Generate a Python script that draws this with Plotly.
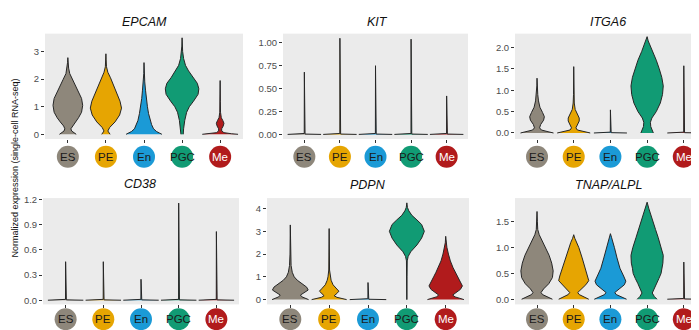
import plotly.graph_objects as go

# The page body adds an 8 px margin, so the figure is laid out 8 px smaller
PAGE_MARGIN = 8
W, H = 699 - PAGE_MARGIN, 330 - PAGE_MARGIN

GROUPS = ["ES", "PE", "En", "PGC", "Me"]
GROUP_COLORS = ["#8E877B", "#E6A502", "#1B9AD6", "#119B74", "#B11B1C"]
LABEL_COLORS = ["#1a1a1a", "#1a1a1a", "#1a1a1a", "#1a1a1a", "#ffffff"]

# density profiles: list of (expression level, half-width density) per group
EPCAM = {
    "ES": [(0, 0.22), (0.05, 0.17), (0.12, 0.10), (0.2, 0.08), (0.3, 0.11), (0.45, 0.20), (0.6, 0.28), (0.8, 0.36),
           (1.05, 0.39), (1.3, 0.36), (1.55, 0.28), (1.8, 0.19), (2.0, 0.12), (2.2, 0.05), (2.4, 0.02), (2.6, 0.008), (2.78, 0)],
    "PE": [(0, 0.11), (0.06, 0.07), (0.12, 0.05), (0.25, 0.10), (0.45, 0.24), (0.7, 0.36), (0.95, 0.41), (1.2, 0.37),
           (1.5, 0.28), (1.8, 0.19), (2.05, 0.12), (2.25, 0.05), (2.45, 0.015), (2.7, 0.006), (2.92, 0)],
    "En": [(0, 0.47), (0.05, 0.40), (0.1, 0.33), (0.2, 0.25), (0.35, 0.20), (0.5, 0.16), (0.75, 0.12), (1.0, 0.09),
           (1.3, 0.06), (1.6, 0.04), (1.9, 0.02), (2.2, 0.006), (2.6, 0)],
    "PGC": [(0, 0.03), (0.2, 0.04), (0.5, 0.07), (0.8, 0.12), (1.0, 0.19), (1.2, 0.30), (1.45, 0.42), (1.65, 0.44),
            (1.85, 0.40), (2.05, 0.29), (2.3, 0.17), (2.5, 0.09), (2.75, 0.04), (3.0, 0.015), (3.2, 0.006), (3.5, 0)],
    "Me": [(0, 0.47), (0.02, 0.30), (0.06, 0.10), (0.12, 0.04), (0.2, 0.04), (0.3, 0.08), (0.4, 0.10), (0.5, 0.07),
           (0.6, 0.03), (0.8, 0.01), (1.2, 0.005), (1.95, 0)],
}
KIT = {
    "ES": [(0, 0.47), (0.004, 0.02), (0.01, 0.003), (0.68, 0)],
    "PE": [(0, 0.47), (0.004, 0.02), (0.01, 0.003), (1.05, 0)],
    "En": [(0, 0.47), (0.004, 0.02), (0.01, 0.003), (0.75, 0)],
    "PGC": [(0, 0.47), (0.004, 0.02), (0.01, 0.003), (1.04, 0)],
    "Me": [(0, 0.47), (0.004, 0.02), (0.01, 0.003), (0.42, 0)],
}
ITGA6 = {
    "ES": [(0, 0.45), (0.03, 0.30), (0.07, 0.12), (0.12, 0.07), (0.2, 0.10), (0.3, 0.18), (0.38, 0.20), (0.48, 0.15),
           (0.6, 0.08), (0.75, 0.04), (0.9, 0.02), (1.1, 0.005), (1.28, 0)],
    "PE": [(0, 0.45), (0.03, 0.30), (0.07, 0.10), (0.12, 0.06), (0.2, 0.10), (0.28, 0.15), (0.35, 0.15), (0.45, 0.09),
           (0.55, 0.04), (0.7, 0.015), (0.9, 0.005), (1.55, 0)],
    "En": [(0, 0.45), (0.008, 0.02), (0.02, 0.003), (0.54, 0)],
    "PGC": [(0, 0.17), (0.06, 0.15), (0.15, 0.10), (0.25, 0.09), (0.35, 0.13), (0.5, 0.25), (0.7, 0.36), (0.9, 0.42),
            (1.1, 0.44), (1.3, 0.40), (1.5, 0.33), (1.7, 0.25), (1.9, 0.15), (2.05, 0.08), (2.15, 0.03), (2.25, 0)],
    "Me": [(0, 0.45), (0.008, 0.02), (0.02, 0.003), (1.57, 0)],
}
CD38 = {
    "ES": [(0, 0.47), (0.004, 0.02), (0.01, 0.003), (0.46, 0)],
    "PE": [(0, 0.47), (0.004, 0.02), (0.01, 0.003), (0.46, 0)],
    "En": [(0, 0.47), (0.004, 0.02), (0.01, 0.003), (0.25, 0)],
    "PGC": [(0, 0.47), (0.004, 0.02), (0.01, 0.003), (1.16, 0)],
    "Me": [(0, 0.47), (0.004, 0.02), (0.01, 0.003), (0.82, 0)],
}
PDPN = {
    "ES": [(0, 0.47), (0.05, 0.40), (0.12, 0.30), (0.2, 0.26), (0.3, 0.35), (0.42, 0.46), (0.55, 0.42), (0.7, 0.30),
           (0.85, 0.18), (1.0, 0.10), (1.2, 0.05), (1.5, 0.02), (2.0, 0.008), (3.28, 0)],
    "PE": [(0, 0.45), (0.05, 0.35), (0.1, 0.20), (0.17, 0.13), (0.27, 0.20), (0.37, 0.25), (0.5, 0.18), (0.65, 0.10),
           (0.85, 0.05), (1.0, 0.03), (1.3, 0.01), (3.12, 0)],
    "En": [(0, 0.47), (0.015, 0.02), (0.04, 0.003), (0.75, 0)],
    "PGC": [(0, 0.003), (1.0, 0.005), (1.7, 0.01), (1.9, 0.035), (2.1, 0.10), (2.4, 0.26), (2.7, 0.38), (3.0, 0.45),
            (3.3, 0.38), (3.5, 0.26), (3.7, 0.13), (3.9, 0.05), (4.05, 0.015), (4.25, 0)],
    "Me": [(0, 0.47), (0.05, 0.38), (0.12, 0.24), (0.2, 0.18), (0.3, 0.26), (0.45, 0.38), (0.6, 0.43), (0.8, 0.38),
           (1.0, 0.31), (1.2, 0.25), (1.4, 0.19), (1.7, 0.12), (2.0, 0.07), (2.3, 0.03), (2.5, 0.01), (2.78, 0)],
}
TNAP = {
    "ES": [(0, 0.42), (0.04, 0.30), (0.09, 0.15), (0.13, 0.11), (0.2, 0.18), (0.3, 0.32), (0.42, 0.42), (0.55, 0.44),
           (0.7, 0.40), (0.85, 0.33), (1.0, 0.23), (1.15, 0.13), (1.25, 0.06), (1.35, 0.02), (1.5, 0.01), (1.7, 0)],
    "PE": [(0, 0.41), (0.04, 0.30), (0.09, 0.15), (0.13, 0.11), (0.2, 0.20), (0.28, 0.33), (0.36, 0.41), (0.45, 0.38),
           (0.6, 0.31), (0.8, 0.23), (1.0, 0.14), (1.1, 0.08), (1.18, 0.03), (1.25, 0)],
    "En": [(0, 0.44), (0.04, 0.32), (0.09, 0.16), (0.13, 0.12), (0.2, 0.25), (0.28, 0.38), (0.35, 0.42), (0.45, 0.36),
           (0.6, 0.26), (0.8, 0.18), (1.0, 0.11), (1.12, 0.07), (1.2, 0.03), (1.27, 0)],
    "PGC": [(0, 0.27), (0.05, 0.20), (0.12, 0.14), (0.2, 0.18), (0.3, 0.25), (0.4, 0.32), (0.5, 0.38), (0.6, 0.40),
            (0.7, 0.43), (0.85, 0.44), (1.0, 0.39), (1.2, 0.30), (1.35, 0.23), (1.5, 0.16), (1.65, 0.09), (1.75, 0.05), (1.88, 0)],
    "Me": [(0, 0.45), (0.006, 0.02), (0.015, 0.003), (0.72, 0)],
}

GENES = ["EPCAM", "KIT", "ITGA6", "CD38", "PDPN", "TNAP/ALPL"]
PROFILES = [EPCAM, KIT, ITGA6, CD38, PDPN, TNAP]
Y_TICKS = [[0, 1, 2, 3], [0, 0.25, 0.5, 0.75, 1.0], [0, 0.5, 1.0, 1.5, 2.0],
           [0, 0.3, 0.6, 0.9, 1.2], [0, 1, 2, 3, 4], [0, 0.5, 1.0, 1.5]]
Y_FORMATS = ["d", ".2f", ".1f", ".1f", "d", ".1f"]
Y_RANGES = [[-0.17, 3.65], [-0.05, 1.10], [-0.14, 2.32], [-0.05, 1.22], [-0.21, 4.46], [-0.1, 1.96]]

# layout in window pixels (left, right, top, bottom) of each panel
PANELS = [(45, 243, 30, 137), (283, 468, 30, 137), (515, 699, 30, 137),
          (43, 239, 197, 305), (267, 469, 197, 305), (515, 699, 197, 305)]
X_RANGES = [[0.4, 5.6], [0.4, 5.6], [0.4, 5.414], [0.4, 5.6], [0.4, 5.6], [0.4, 5.414]]
TITLE_X = [144, 377, 608, 140, 368, 608]
TITLE_Y = [18, 18, 18, 183, 184, 184]
CIRCLE_Y = [155, 155, 155, 320, 320, 320]


def px_x(v):
    return (v - PAGE_MARGIN) / W


def px_y(v):
    return (H - (v - PAGE_MARGIN)) / H


fig = go.Figure()
layout = dict(width=W, height=H, margin=dict(l=0, r=0, t=0, b=0),
              paper_bgcolor="white", plot_bgcolor="#EBEBEB", showlegend=False,
              font=dict(family="Liberation Sans, Arial, sans-serif"))
shapes, annotations = [], []

for p, (gene, prof) in enumerate(zip(GENES, PROFILES)):
    n = p + 1
    xa = "x" if n == 1 else f"x{n}"
    ya = "y" if n == 1 else f"y{n}"
    l, r, t, b = PANELS[p]
    for i, g in enumerate(GROUPS):
        pts = prof[g]
        lev = [v for v, d in pts]
        den = [d for v, d in pts]
        c = i + 1
        xs = [c - d for d in den] + [c + d for d in reversed(den)]
        ys = lev + list(reversed(lev))
        fig.add_trace(go.Scatter(x=xs, y=ys, mode="lines", fill="toself",
                                 fillcolor=GROUP_COLORS[i],
                                 line=dict(color="#262626", width=1.0),
                                 xaxis=xa, yaxis=ya, hoverinfo="skip"))
        cy = px_y(CIRCLE_Y[p])
        shapes.append(dict(type="circle", xref=xa, yref="paper", xsizemode="pixel", ysizemode="pixel",
                           xanchor=c, yanchor=cy, x0=-11, x1=11, y0=-11, y1=11,
                           fillcolor=GROUP_COLORS[i], line=dict(width=0), layer="above"))
        annotations.append(dict(x=c, y=cy, xref=xa, yref="paper", text=g, showarrow=False,
                                font=dict(size=11.5, color=LABEL_COLORS[i]),
                                xanchor="center", yanchor="middle"))
    layout["xaxis" if n == 1 else f"xaxis{n}"] = dict(
        domain=[px_x(l), min(1.0, px_x(r))], range=X_RANGES[p], anchor=ya,
        tickvals=[1, 2, 3, 4, 5], ticktext=[""] * 5, ticks="outside", ticklen=3,
        tickcolor="#333333", tickwidth=1, showgrid=False, zeroline=False, showline=False, fixedrange=True)
    layout["yaxis" if n == 1 else f"yaxis{n}"] = dict(
        domain=[px_y(b), px_y(t)], range=Y_RANGES[p], anchor=xa,
        tickvals=Y_TICKS[p], tickformat=Y_FORMATS[p], ticks="outside", ticklen=3,
        tickcolor="#333333", tickwidth=1, tickfont=dict(size=9.5, color="#4D4D4D"),
        showgrid=False, zeroline=False, showline=False, fixedrange=True)
    annotations.append(dict(x=px_x(TITLE_X[p]), y=px_y(TITLE_Y[p]), xref="paper", yref="paper",
                            text=f"<i>{gene}</i>", showarrow=False,
                            font=dict(size=12.5, color="#111111"), xanchor="center", yanchor="middle"))

annotations.append(dict(x=px_x(15), y=px_y(167), xref="paper", yref="paper",
                        text="Normalized expression (single-cell RNA-seq)", textangle=-90,
                        showarrow=False, font=dict(size=9, color="#111111"),
                        xanchor="center", yanchor="middle"))

layout["shapes"] = shapes
layout["annotations"] = annotations
fig.update_layout(**layout)
fig.write_html("out.html")
